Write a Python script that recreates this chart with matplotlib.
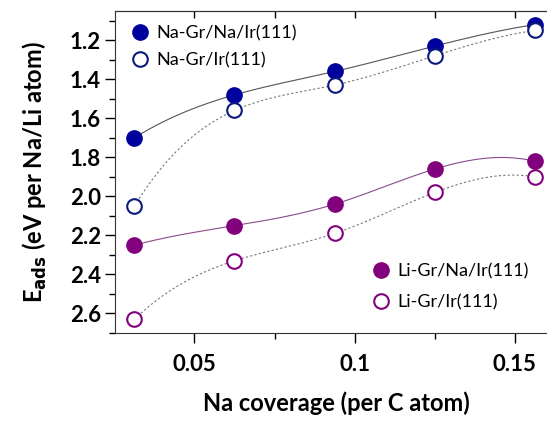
import numpy as np
import matplotlib.pyplot as plt
from matplotlib.ticker import MultipleLocator

# coverage (per C atom)
coverage = [1/32, 2/32, 3/32, 4/32, 5/32]

na_gr_na_ir = [1.70, 1.48, 1.36, 1.23, 1.12]
na_gr_ir = [2.05, 1.56, 1.43, 1.28, 1.15]
li_gr_na_ir = [2.25, 2.15, 2.04, 1.86, 1.82]
li_gr_ir = [2.63, 2.33, 2.19, 1.98, 1.90]


def spline(x, y, n=200):
    # not-a-knot cubic spline, just for the smooth connecting line
    x = np.asarray(x, float)
    y = np.asarray(y, float)
    k = len(x)
    h = np.diff(x)
    A = np.zeros((k, k))
    b = np.zeros(k)
    A[0, 0:3] = [h[1], -(h[0] + h[1]), h[0]]
    A[-1, -3:] = [h[-1], -(h[-2] + h[-1]), h[-2]]
    for i in range(1, k - 1):
        A[i, i - 1] = h[i - 1]
        A[i, i] = 2 * (h[i - 1] + h[i])
        A[i, i + 1] = h[i]
        b[i] = 6 * ((y[i + 1] - y[i]) / h[i] - (y[i] - y[i - 1]) / h[i - 1])
    M = np.linalg.solve(A, b)
    xs = np.linspace(x[0], x[-1], n)
    j = np.clip(np.searchsorted(x, xs) - 1, 0, k - 2)
    t0 = x[j + 1] - xs
    t1 = xs - x[j]
    hj = h[j]
    ys = (M[j] * t0**3 + M[j + 1] * t1**3) / (6 * hj) \
        + (y[j] / hj - M[j] * hj / 6) * t0 + (y[j + 1] / hj - M[j + 1] * hj / 6) * t1
    return xs, ys


blue = '#00009c'
navy = '#0a1a7a'
purple = '#82027e'

plt.rcParams['font.family'] = ['Lato', 'DejaVu Sans']

fig = plt.figure(figsize=(5.47, 4.21), dpi=100)
ax = fig.add_axes([0.2102, 0.209, 0.81, 0.765])

ax.plot(*spline(coverage, na_gr_na_ir), color='#555555', lw=0.8)
ax.plot(*spline(coverage, na_gr_ir), color='#777777', lw=0.8, ls=(0, (2, 2)))
ax.plot(*spline(coverage, li_gr_na_ir), color='#8a4a8a', lw=0.8)
ax.plot(*spline(coverage, li_gr_ir), color='#777777', lw=0.8, ls=(0, (2, 2)))

h1, = ax.plot(coverage, na_gr_na_ir, 'o', ms=11, color=blue, label='Na-Gr/Na/Ir(111)')
h2, = ax.plot(coverage, na_gr_ir, 'o', ms=10.5, mfc='white', mec=navy, mew=1.5,
              label='Na-Gr/Ir(111)')
h3, = ax.plot(coverage, li_gr_na_ir, 'o', ms=11, color=purple, label='Li-Gr/Na/Ir(111)')
h4, = ax.plot(coverage, li_gr_ir, 'o', ms=10.5, mfc='white', mec=purple, mew=1.5,
              label='Li-Gr/Ir(111)')

ax.set_xlim(0.0252, 0.1635)
ax.set_ylim(2.70, 1.05)

ax.xaxis.set_minor_locator(MultipleLocator(0.025))
ax.yaxis.set_minor_locator(MultipleLocator(0.1))
ax.set_xticks([0.05, 0.1, 0.15])
ax.set_xticklabels(['0.05', '0.1', '0.15'])
ax.set_yticks([1.2, 1.4, 1.6, 1.8, 2.0, 2.2, 2.4, 2.6])
ax.set_yticklabels(['1.2', '1.4', '1.6', '1.8', '2.0', '2.2', '2.4', '2.6'])

ax.tick_params(axis='both', which='major', direction='out', length=7, width=1,
               labelsize=16)
ax.tick_params(axis='both', which='minor', direction='out', length=4, width=1)
ax.tick_params(axis='x', which='major', pad=8)
ax.tick_params(axis='y', which='major', pad=3)
for lab in ax.get_xticklabels() + ax.get_yticklabels():
    lab.set_fontweight('bold')

# top ticks point inward
top = ax.secondary_xaxis('top')
top.set_xticks([0.05, 0.075, 0.1, 0.125, 0.15])
top.tick_params(direction='in', length=5, width=1, labeltop=False)
top.spines['top'].set_color('#333333')

ax.spines['right'].set_visible(False)
for s in ['left', 'bottom', 'top']:
    ax.spines[s].set_color('#333333')

ax.set_xlabel('Na coverage (per C atom)', fontsize=17, fontweight='bold', labelpad=12)
ax.set_ylabel(r'E$_{\mathbf{ads}}$ (eV per Na/Li atom)', fontsize=17, fontweight='bold',
              labelpad=15)

leg1 = ax.legend(handles=[h1, h2], loc='upper left', frameon=False, fontsize=13,
                 handletextpad=0.3, borderaxespad=0.4, labelspacing=0.6,
                 handlelength=1.2)
ax.add_artist(leg1)
ax.legend(handles=[h3, h4], loc='lower right', frameon=False, fontsize=13,
          handletextpad=0.3, labelspacing=0.8, handlelength=1.2,
          bbox_to_anchor=(0.97, 0.02))

fig.savefig('out.png', dpi=100)
